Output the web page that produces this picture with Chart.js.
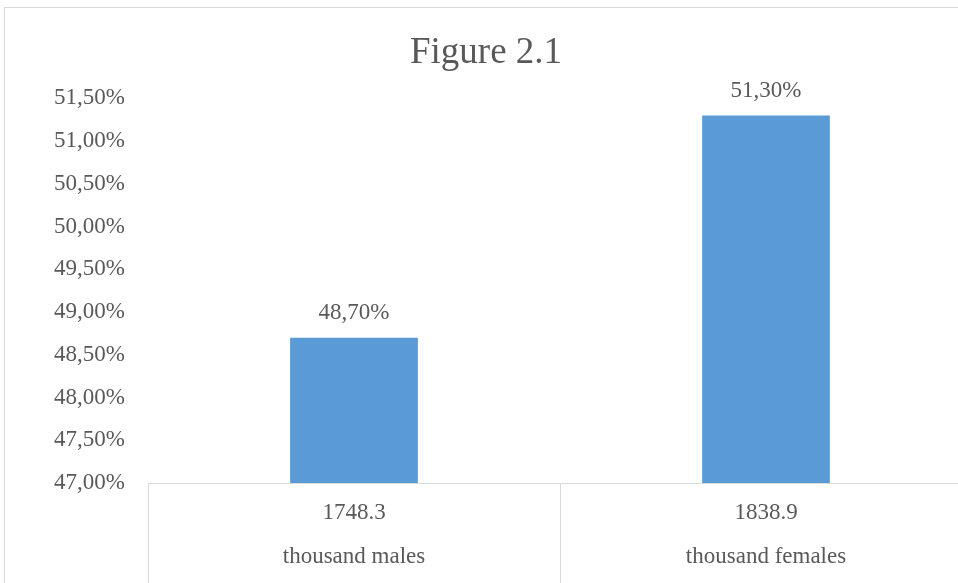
<!DOCTYPE html>
<html>
<head>
<meta charset="utf-8">
<script src="https://cdn.jsdelivr.net/npm/chart.js@4.4.1/dist/chart.umd.min.js"></script>
<style>
  html, body { margin: 0; padding: 0; background: #fff; overflow: hidden; }
  #frame { position: absolute; left: 4px; top: 7px; width: 2000px; height: 2000px;
           border-left: 1px solid #d9d9d9; border-top: 1px solid #d9d9d9; pointer-events: none; }
  #chart { position: absolute; left: 0; top: 0; }
</style>
</head>
<body>
<canvas id="chart" width="990" height="600"></canvas>
<div id="frame"></div>
<script>
  // chart data
  const counts = ["1748.3", "1838.9"];
  const groups = ["thousand males", "thousand females"];
  const shares = [48.7, 51.3];
  const yMin = 47, yMax = 51.5, yStep = 0.5;

  const textColor = "#595959";
  const lineColor = "#d9d9d9";
  const fontFamily = "'Liberation Serif', 'Times New Roman', serif";

  const pct = (v) => v.toFixed(2).replace(".", ",") + "%";

  // labels on top of the bars
  const valueLabels = {
    id: "valueLabels",
    afterDatasetsDraw: function (chart) {
      const ctx = chart.ctx;
      const meta = chart.getDatasetMeta(0);
      ctx.save();
      ctx.font = "23px " + fontFamily;
      ctx.fillStyle = textColor;
      ctx.textAlign = "center";
      ctx.textBaseline = "middle";
      meta.data.forEach((bar, i) => {
        ctx.fillText(pct(shares[i]), bar.x, bar.y - 25);
      });
      ctx.restore();
    },
  };

  const ctx = document.getElementById("chart").getContext("2d");
  new Chart(ctx, {
    type: "bar",
    data: {
      labels: counts.map((c, i) => [c, groups[i]]),
      datasets: [
        {
          data: shares,
          backgroundColor: "#5b9bd5",
          borderWidth: 0,
          categoryPercentage: 1,
          barPercentage: 0.31,
        },
      ],
    },
    options: {
      responsive: false,
      animation: false,
      layout: { padding: { left: 0, right: 18, top: 0, bottom: 0 } },
      plugins: {
        legend: { display: false },
        tooltip: { enabled: false },
        title: {
          display: true,
          text: "Figure 2.1",
          color: textColor,
          font: { family: fontFamily, size: 37, weight: "normal", lineHeight: 1.2 },
          padding: { top: 31, bottom: 23 },
        },
      },
      scales: {
        x: {
          afterFit: (s) => { s.height = 117; },
          grid: {
            offset: true,
            drawOnChartArea: false,
            color: lineColor,
            tickLength: 110,
          },
          border: { display: true, color: lineColor },
          ticks: {
            color: textColor,
            padding: -102,
            font: { family: fontFamily, size: 23, lineHeight: 44 / 23 },
          },
        },
        y: {
          min: yMin,
          max: yMax,
          afterFit: (s) => { s.width = 148; },
          grid: { display: false },
          border: { display: false },
          ticks: {
            stepSize: yStep,
            color: textColor,
            padding: 15,
            font: { family: fontFamily, size: 23 },
            callback: (v) => pct(v),
          },
        },
      },
    },
    plugins: [valueLabels],
  });
</script>
</body>
</html>
